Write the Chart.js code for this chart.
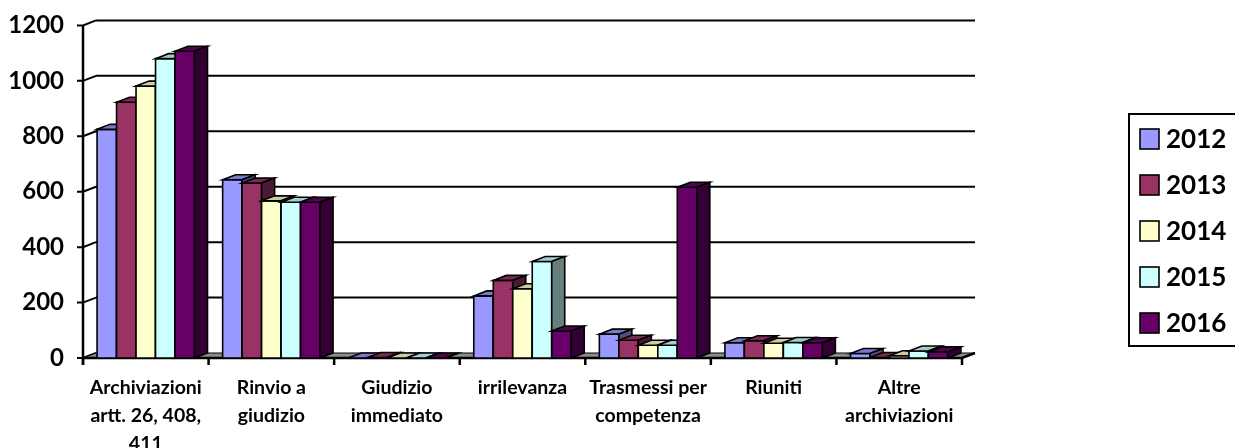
<!DOCTYPE html>
<html>
<head>
<meta charset="utf-8">
<script src="https://cdn.jsdelivr.net/npm/chart.js@4.4.1/dist/chart.umd.min.js"></script>
<style>
  html, body { margin: 0; padding: 0; background: #fff; }
  #wrap { width: 1235px; height: 448px; }
</style>
</head>
<body>
<div id="wrap"><canvas id="chart" width="1235" height="448"></canvas></div>
<script>
// categories and values
var categories = [
  ["Archiviazioni", "artt. 26, 408,", "411"],
  ["Rinvio a", "giudizio"],
  ["Giudizio", "immediato"],
  "irrilevanza",
  ["Trasmessi per", "competenza"],
  "Riuniti",
  ["Altre", "archiviazioni"]
];
var years = ["2012", "2013", "2014", "2015", "2016"];
var values2012 = [825, 643, 0, 224, 86, 55, 16];
var values2013 = [923, 631, 2, 280, 64, 62, 2];
var values2014 = [981, 567, 0, 250, 46, 53, 8];
var values2015 = [1080, 562, 0, 348, 46, 56, 25];
var values2016 = [1107, 562, 0, 97, 616, 55, 22];
var yTicks = [0, 200, 400, 600, 800, 1000, 1200];

var seriesColors = ["#9999FF", "#993366", "#FFFFCC", "#CCFFFF", "#660066"];
var FONT = "Lato, 'Open Sans', sans-serif";
var DX = 13, DY = -5;

function shade(hex, f) {
  var n = parseInt(hex.slice(1), 16);
  var r = Math.round(((n >> 16) & 255) * f);
  var g = Math.round(((n >> 8) & 255) * f);
  var b = Math.round((n & 255) * f);
  return "rgb(" + r + "," + g + "," + b + ")";
}

function poly(ctx, pts, fill) {
  ctx.beginPath();
  ctx.moveTo(pts[0][0], pts[0][1]);
  for (var i = 1; i < pts.length; i++) ctx.lineTo(pts[i][0], pts[i][1]);
  ctx.closePath();
  ctx.fillStyle = fill;
  ctx.fill();
  ctx.stroke();
}

// draws the pseudo 3d walls, floor and bars
var threeD = {
  id: "threeD",
  beforeDatasetsDraw: function(chart) {
    var ctx = chart.ctx, a = chart.chartArea;
    var ys = chart.scales.y, xs = chart.scales.x;
    ctx.save();
    ctx.strokeStyle = "#000";
    ctx.lineCap = "butt";

    // back grid lines + connectors + ticks
    yTicks.forEach(function(v) {
      var py = ys.getPixelForValue(v);
      ctx.lineWidth = 2;
      if (v > 0) {
        ctx.beginPath();
        ctx.moveTo(a.left + DX, py + DY);
        ctx.lineTo(a.right + DX, py + DY);
        ctx.stroke();
      }
      ctx.beginPath();
      ctx.moveTo(a.left - 6, py);
      ctx.lineTo(a.left, py);
      ctx.lineTo(a.left + DX, py + DY);
      ctx.stroke();
    });

    // floor
    var base = ys.getPixelForValue(0);
    ctx.lineWidth = 1;
    poly(ctx, [[a.left, base], [a.left + DX, base + DY], [a.right + DX, base + DY], [a.right, base]], "#8c8c8c");

    // axes
    ctx.lineWidth = 2.5;
    ctx.beginPath();
    ctx.moveTo(a.left, ys.getPixelForValue(1200));
    ctx.lineTo(a.left, base + 7);
    ctx.moveTo(a.left, base);
    ctx.lineTo(a.right, base);
    ctx.lineTo(a.right + DX, base + DY);
    ctx.stroke();

    var step = xs.getPixelForValue(1) - xs.getPixelForValue(0);
    for (var i = 0; i <= categories.length; i++) {
      var px = xs.getPixelForValue(0) - step / 2 + i * step;
      ctx.beginPath();
      ctx.moveTo(px, base);
      ctx.lineTo(px, base + 7);
      ctx.stroke();
    }
    ctx.restore();
  },
  beforeDatasetDraw: function() {
    return false;
  },
  afterDatasetsDraw: function(chart) {
    var ctx = chart.ctx;
    ctx.save();
    ctx.strokeStyle = "#000";
    ctx.lineWidth = 1.6;
    ctx.lineJoin = "miter";
    for (var i = 0; i < categories.length; i++) {
      for (var d = 0; d < chart.data.datasets.length; d++) {
        var el = chart.getDatasetMeta(d).data[i];
        var col = seriesColors[d];
        var l = el.x - el.width / 2, r = el.x + el.width / 2;
        var t = el.y, b = el.base;
        if (b - t > 0.5) {
          poly(ctx, [[l, t], [r, t], [r, b], [l, b]], col);
        }
        poly(ctx, [[l, t], [l + DX, t + DY], [r + DX, t + DY], [r, t]], shade(col, 0.8));
        poly(ctx, [[r, t], [r + DX, t + DY], [r + DX, b + DY], [r, b]], shade(col, 0.5));
      }
    }
    ctx.restore();
  },
  afterDraw: function(chart) {
    var ctx = chart.ctx;
    ctx.save();
    ctx.strokeStyle = "#000";
    ctx.lineWidth = 2;
    ctx.strokeRect(1129, 114, 130, 232);
    ctx.font = "bold 26px " + FONT;
    ctx.textBaseline = "middle";
    ctx.textAlign = "left";
    chart.data.datasets.forEach(function(ds, k) {
      var cy = 139 + k * 46;
      ctx.fillStyle = ds.backgroundColor;
      ctx.fillRect(1140, cy - 10, 19, 20);
      ctx.lineWidth = 1.6;
      ctx.strokeRect(1140, cy - 10, 19, 20);
      ctx.fillStyle = "#000";
      ctx.fillText(ds.label, 1166, cy + 1);
    });
    ctx.restore();
  }
};

var seriesValues = [values2012, values2013, values2014, values2015, values2016];
var datasets = years.map(function(y, k) {
  return {
    label: y,
    data: seriesValues[k],
    backgroundColor: seriesColors[k],
    barPercentage: 1,
    categoryPercentage: 0.776
  };
});

var chart = new Chart(document.getElementById("chart").getContext("2d"), {
  type: "bar",
  data: { labels: categories, datasets: datasets },
  plugins: [threeD],
  options: {
    responsive: false,
    animation: false,
    layout: { padding: { top: 24, right: 273, left: 0, bottom: 0 } },
    plugins: { legend: { display: false }, tooltip: { enabled: false } },
    scales: {
      x: {
        grid: { display: false },
        border: { display: false },
        ticks: {
          color: "#000",
          font: { family: FONT, size: 19.5, weight: "bold", lineHeight: 1.44 },
          padding: 8,
          maxRotation: 0,
          autoSkip: false
        },
        afterFit: function(s) { s.height = 90; }
      },
      y: {
        min: 0,
        max: 1200,
        grid: { display: false },
        border: { display: false },
        ticks: {
          stepSize: 200,
          color: "#000",
          font: { family: FONT, size: 24, weight: "bold" },
          padding: 11,
          callback: function(v) { return String(v); }
        },
        afterFit: function(s) { s.width = 83; }
      }
    }
  }
});
</script>
</body>
</html>
